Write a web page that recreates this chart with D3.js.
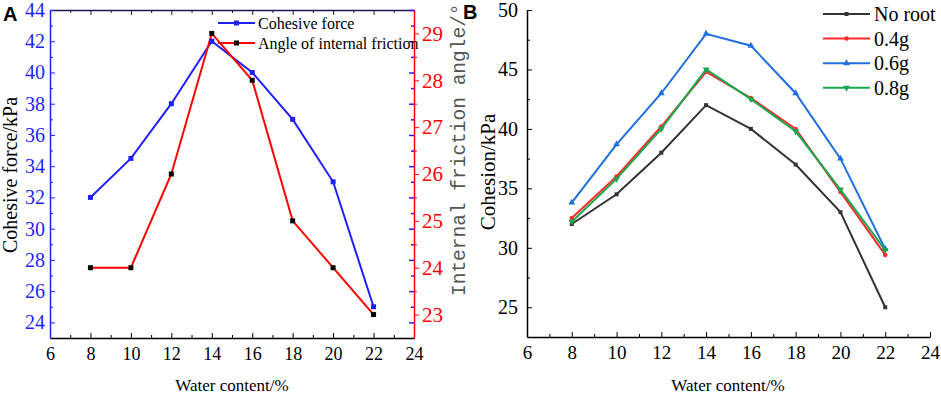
<!DOCTYPE html>
<html>
<head>
<meta charset="utf-8">
<script src="https://cdn.jsdelivr.net/npm/d3@7"></script>
<style>
  body { margin: 0; background: #fff; }
  svg text { font-family: "Liberation Serif", "Times New Roman", serif; }
  svg text.mono { font-family: "Liberation Mono", monospace; }
  svg text.bold { font-family: "Liberation Sans", Arial, sans-serif; font-weight: bold; }
</style>
</head>
<body>
<script>
var w = 941;
var h = 397;

// panel A data
var waterA = [8, 10, 12, 14, 16, 18, 20, 22];
var cohesiveForce = [32, 34.5, 38, 42, 40, 37, 33, 25];
var frictionAngle = [24, 24, 26, 29, 28, 25, 24, 23];

// panel B data
var waterB = [8, 10, 12, 14, 16, 18, 20, 22];
var seriesNames = ["No root", "0.4g", "0.6g", "0.8g"];
var noRoot = [32, 34.5, 38, 42, 40, 37, 33, 25];
var root04 = [32.5, 36, 40.2, 44.8, 42.6, 40, 34.7, 29.4];
var root06 = [33.8, 38.7, 43, 48, 47, 43, 37.5, 29.9];
var root08 = [32.2, 35.8, 40, 45, 42.5, 39.8, 34.9, 29.8];

var xTicks = [6, 8, 10, 12, 14, 16, 18, 20, 22, 24];
var leftTicksA = [24, 26, 28, 30, 32, 34, 36, 38, 40, 42, 44];
var rightTicksA = [23, 24, 25, 26, 27, 28, 29];
var yTicksB = [25, 30, 35, 40, 45, 50];

var blue = "#1f1fff";
var red = "#ff0000";

var svg = d3.select("body").append("svg")
    .attr("width", w)
    .attr("height", h);

function minorVals(lo, hi, step) {
  var out = [];
  for (var v = lo; v <= hi + 1e-9; v += step) out.push(+v.toFixed(3));
  return out;
}

// ---------- panel A ----------
var xA = d3.scaleLinear().domain([6, 24]).range([50, 414]);
var yL = d3.scaleLinear().domain([23, 44]).range([338, 10]);
var yR = d3.scaleLinear().domain([22.5, 29.5]).range([338, 10]);

var gA = svg.append("g");

// top border with inward ticks
gA.append("g")
    .attr("transform", "translate(0,10)")
    .call(d3.axisTop(xA).tickValues(minorVals(6, 24, 1)).tickSize(-3).tickSizeOuter(0).tickFormat(""))
    .call(g => g.select(".domain").attr("stroke", "#1a1a55").attr("stroke-width", 1.5))
    .call(g => g.selectAll(".tick line").attr("stroke", "#1a1a55").attr("y2", d => d % 2 == 0 ? 5 : 3));

// bottom axis
gA.append("g")
    .attr("transform", "translate(0,338)")
    .call(d3.axisBottom(xA).tickValues(minorVals(6, 24, 1)).tickSize(-3).tickSizeOuter(0).tickPadding(9)
      .tickFormat(d => xTicks.indexOf(d) >= 0 ? d : ""))
    .call(g => g.select(".domain").attr("stroke-width", 1.5))
    .call(g => g.selectAll(".tick line").attr("y2", d => d % 2 == 0 ? -5 : -3))
    .call(g => g.selectAll("text").attr("font-size", 18));

// right mirrored blue ticks (inward)
gA.append("g")
    .attr("transform", "translate(414,0)")
    .call(d3.axisRight(yL).tickValues(minorVals(24, 44, 1)).tickSize(-3).tickSizeOuter(0).tickFormat(""))
    .call(g => g.select(".domain").remove())
    .call(g => g.selectAll(".tick line").attr("stroke", blue).attr("stroke-width", 1.5)
      .attr("x2", d => d % 2 == 0 ? -5 : -3));

// right red axis
gA.append("g")
    .attr("transform", "translate(414,0)")
    .call(d3.axisRight(yR).tickValues(minorVals(23, 29, 0.5)).tickSize(5).tickSizeOuter(0).tickPadding(3)
      .tickFormat(d => rightTicksA.indexOf(d) >= 0 ? d : ""))
    .call(g => g.select(".domain").attr("stroke", red).attr("stroke-width", 1.5))
    .call(g => g.selectAll(".tick line").attr("stroke", red).attr("x2", d => Number.isInteger(d) ? 5 : 3))
    .call(g => g.selectAll("text").attr("fill", red).attr("font-size", 21));

// left blue axis
gA.append("g")
    .attr("transform", "translate(50,0)")
    .call(d3.axisLeft(yL).tickValues(minorVals(24, 44, 1)).tickSize(-3).tickSizeOuter(0).tickPadding(5)
      .tickFormat(d => leftTicksA.indexOf(d) >= 0 ? d : ""))
    .call(g => g.select(".domain").attr("stroke", blue).attr("stroke-width", 1.5))
    .call(g => g.selectAll(".tick line").attr("stroke", blue).attr("x2", d => d % 2 == 0 ? 5 : 3))
    .call(g => g.selectAll("text").attr("fill", blue).attr("font-size", 20));

// lines A
var lineL = d3.line().x((d, i) => xA(waterA[i])).y(d => yL(d));
var lineR = d3.line().x((d, i) => xA(waterA[i])).y(d => yR(d));

gA.append("path").datum(cohesiveForce)
    .attr("d", lineL).attr("fill", "none").attr("stroke", blue).attr("stroke-width", 2);
gA.append("path").datum(frictionAngle)
    .attr("d", lineR).attr("fill", "none").attr("stroke", red).attr("stroke-width", 2);

gA.selectAll(".mkL").data(cohesiveForce).enter().append("rect")
    .attr("x", (d, i) => xA(waterA[i]) - 2.5).attr("y", d => yL(d) - 2.5)
    .attr("width", 5).attr("height", 5).attr("fill", blue);
gA.selectAll(".mkR").data(frictionAngle).enter().append("rect")
    .attr("x", (d, i) => xA(waterA[i]) - 2.5).attr("y", d => yR(d) - 2.5)
    .attr("width", 5).attr("height", 5).attr("fill", "#000");

// legend A
var legA = [{name: "Cohesive force", color: blue, mk: blue}, {name: "Angle of internal friction", color: red, mk: "#000"}];
var lgA = gA.selectAll(".legA").data(legA).enter().append("g")
    .attr("transform", (d, i) => "translate(218," + (23 + i * 20) + ")");
lgA.append("line").attr("x1", 0).attr("x2", 37).attr("stroke", d => d.color).attr("stroke-width", 2);
lgA.append("rect").attr("x", 16).attr("y", -2.5).attr("width", 5).attr("height", 5).attr("fill", d => d.mk);
lgA.append("text").attr("x", 40).attr("y", 5.5).attr("font-size", 16).text(d => d.name);

// titles A
svg.append("text")
    .attr("transform", "translate(17,175) rotate(-90)")
    .attr("text-anchor", "middle").attr("font-size", 20)
    .text("Cohesive force/kPa");
svg.append("text").attr("class", "mono")
    .attr("transform", "translate(465,296) rotate(-90)")
    .attr("font-size", 19.5).attr("fill", "#555")
    .text("Internal friction angle/°");
svg.append("text")
    .attr("x", 232).attr("y", 391).attr("text-anchor", "middle").attr("font-size", 17)
    .text("Water content/%");
svg.append("text").attr("class", "bold")
    .attr("x", 3).attr("y", 21).attr("font-size", 20).text("A");

// ---------- panel B ----------
var xB = d3.scaleLinear().domain([6, 24]).range([527, 930]);
var yB = d3.scaleLinear().domain([22.5, 50]).range([337, 10]);

var gB = svg.append("g");

gB.append("g")
    .attr("transform", "translate(0,337)")
    .call(d3.axisBottom(xB).tickValues(minorVals(6, 24, 1)).tickSize(-3).tickSizeOuter(0).tickPadding(9)
      .tickFormat(d => xTicks.indexOf(d) >= 0 ? d : ""))
    .call(g => g.select(".domain").attr("stroke-width", 1.5))
    .call(g => g.selectAll(".tick line").attr("y2", d => d % 2 == 0 ? -5 : -3))
    .call(g => g.selectAll("text").attr("font-size", 19));

gB.append("g")
    .attr("transform", "translate(527,0)")
    .call(d3.axisLeft(yB).tickValues(minorVals(25, 50, 2.5)).tickSize(-3).tickSizeOuter(0).tickPadding(9)
      .tickFormat(d => yTicksB.indexOf(d) >= 0 ? d : ""))
    .call(g => g.select(".domain").attr("stroke-width", 1.5))
    .call(g => g.selectAll(".tick line").attr("x2", d => yTicksB.indexOf(d) >= 0 ? 5 : 3))
    .call(g => g.selectAll("text").attr("font-size", 20));

var seriesB = [
  {name: seriesNames[0], values: noRoot, color: "#333333", sym: d3.symbolSquare, size: 16, rot: 0},
  {name: seriesNames[1], values: root04, color: "#ff2a2a", sym: d3.symbolCircle, size: 16, rot: 0},
  {name: seriesNames[2], values: root06, color: "#1f6fe0", sym: d3.symbolTriangle, size: 20, rot: 0},
  {name: seriesNames[3], values: root08, color: "#17a84e", sym: d3.symbolTriangle, size: 20, rot: 180}
];

var lineB = d3.line().x((d, i) => xB(waterB[i])).y(d => yB(d));

seriesB.forEach(function(s) {
  gB.append("path").datum(s.values)
      .attr("d", lineB).attr("fill", "none").attr("stroke", s.color).attr("stroke-width", 2);
  gB.selectAll(null).data(s.values).enter().append("path")
      .attr("d", d3.symbol().type(s.sym).size(s.size))
      .attr("transform", (d, i) => "translate(" + xB(waterB[i]) + "," + yB(d) + ") rotate(" + s.rot + ")")
      .attr("fill", s.color);
});

var lgB = gB.selectAll(".legB").data(seriesB).enter().append("g")
    .attr("transform", (d, i) => "translate(823," + (14 + i * 24.6) + ")");
lgB.append("line").attr("x1", 0).attr("x2", 47).attr("stroke", d => d.color).attr("stroke-width", 2);
lgB.append("path").attr("d", d => d3.symbol().type(d.sym).size(d.size)())
    .attr("transform", d => "translate(23.5,0) rotate(" + d.rot + ")").attr("fill", d => d.color);
lgB.append("text").attr("x", 51).attr("y", 7).attr("font-size", 20).text(d => d.name);

svg.append("text")
    .attr("transform", "translate(495,172) rotate(-90)")
    .attr("text-anchor", "middle").attr("font-size", 21)
    .text("Cohesion/kPa");
svg.append("text")
    .attr("x", 728).attr("y", 391).attr("text-anchor", "middle").attr("font-size", 17)
    .text("Water content/%");
svg.append("text").attr("class", "bold")
    .attr("x", 463).attr("y", 19).attr("font-size", 20).text("B");
</script>
</body>
</html>
